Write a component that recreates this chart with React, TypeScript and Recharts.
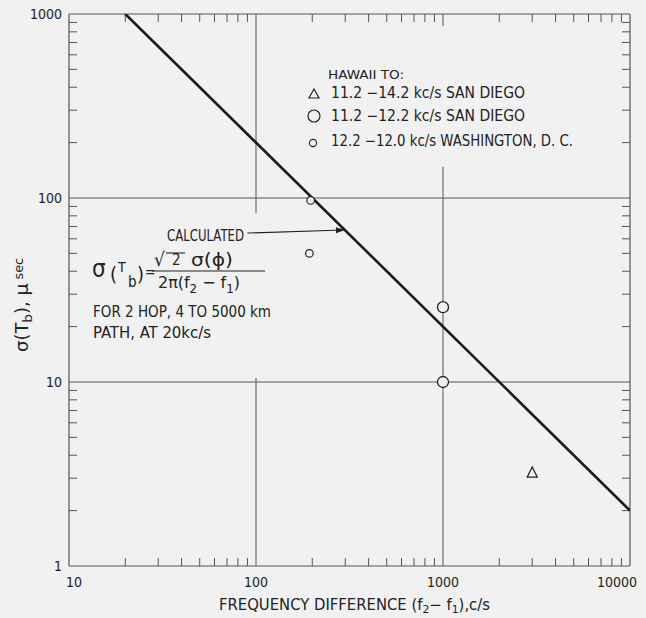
import React from "react";
import {
  ComposedChart,
  ReferenceLine,
  Scatter,
  XAxis,
  YAxis,
} from "recharts";

// calculated curve sigma = sqrt2 * sigma(phi) / (2 pi df), straight on log-log
const calcLine = [
  { x: 20, y: 1000 },
  { x: 10000, y: 2 },
];
const sanDiego142 = [{ x: 3000, y: 3.2 }];
const sanDiego122 = [
  { x: 1000, y: 25.5 },
  { x: 1000, y: 10 },
];
const washington = [
  { x: 196, y: 97 },
  { x: 193, y: 50 },
];

const xMajor = [10, 100, 1000, 10000];
const yMajor = [1, 10, 100, 1000];
const xMinor = [
  20, 30, 40, 50, 60, 70, 80, 90, 200, 300, 400, 500, 600, 700, 800, 900, 2000,
  3000, 4000, 5000, 6000, 7000, 8000, 9000,
];
const yMinor = [
  2, 3, 4, 5, 6, 7, 8, 9, 20, 30, 40, 50, 60, 70, 80, 90, 200, 300, 400, 500,
  600, 700, 800, 900,
];

const FONT = "'DejaVu Sans Condensed', 'Liberation Sans Narrow', sans-serif";
const INK = "#222";
const GRID = "#555";
const BG = "#f1f1f1";

const blank = () => "";

const XTick = (props: any) => {
  const { x, y, payload } = props;
  const v = payload.value;
  const dx = v === 10 ? 5 : v === 10000 ? -13 : 0;
  return (
    <text x={x + dx} y={y + 13} textAnchor="middle" fontSize={14} fill={INK} fontFamily={FONT}>
      {v}
    </text>
  );
};

const YTick = (props: any) => {
  const { x, y, payload } = props;
  return (
    <text x={x} y={y + 5} textAnchor="end" fontSize={14} fill={INK} fontFamily={FONT}>
      {payload.value}
    </text>
  );
};

const Triangle = (p: any) => (
  <polygon
    points={`${p.cx},${p.cy - 6} ${p.cx - 5},${p.cy + 4} ${p.cx + 5},${p.cy + 4}`}
    fill="none"
    stroke={INK}
    strokeWidth={1.3}
  />
);
const BigCircle = (p: any) => (
  <circle cx={p.cx} cy={p.cy} r={5.5} fill={BG} stroke={INK} strokeWidth={1.3} />
);
const SmallCircle = (p: any) => (
  <circle cx={p.cx} cy={p.cy} r={3.8} fill={BG} stroke={INK} strokeWidth={1.2} />
);
const NoDot = () => <g />;

const Arrow = (p: any) => {
  const { x1, y1, x2, y2 } = p;
  const a = Math.atan2(y2 - y1, x2 - x1);
  const L = 9;
  const w = 3;
  const bx = x2 - L * Math.cos(a);
  const by = y2 - L * Math.sin(a);
  const nx = -Math.sin(a) * w;
  const ny = Math.cos(a) * w;
  return (
    <g>
      <line x1={x1} y1={y1} x2={bx} y2={by} stroke={INK} strokeWidth={1.1} />
      <polygon points={`${x2},${y2} ${bx + nx},${by + ny} ${bx - nx},${by - ny}`} fill={INK} />
    </g>
  );
};

const axisCommon = {
  type: "number" as const,
  scale: "log" as const,
  allowDataOverflow: true,
  interval: 0 as const,
};

export default function App() {
  return (
    <div
      style={{
        position: "absolute",
        left: 0,
        top: 0,
        width: 646,
        height: 618,
        background: BG,
        fontFamily: FONT,
      }}
    >
      <ComposedChart
        width={646}
        height={618}
        margin={{ top: 14, right: 16, bottom: 12, left: 9 }}
      >
        {/* bottom labelled axis */}
        <XAxis
          {...axisCommon}
          xAxisId="b"
          dataKey="x"
          domain={[10, 10000]}
          ticks={xMajor}
          tickLine={false}
          axisLine={{ stroke: GRID, strokeWidth: 1.2 }}
          height={40}
          tick={<XTick />}
        />
        {/* inner minor ticks, bottom */}
        <XAxis
          {...axisCommon}
          xAxisId="bm"
          dataKey="x"
          mirror
          domain={[10, 10000]}
          ticks={xMinor}
          tickSize={8}
          tickLine={{ stroke: GRID }}
          axisLine={false}
          tickFormatter={blank}
        />
        {/* top border + minor ticks */}
        <XAxis
          {...axisCommon}
          xAxisId="t"
          dataKey="x"
          orientation="top"
          mirror
          domain={[10, 10000]}
          ticks={xMinor}
          tickSize={8}
          tickLine={{ stroke: GRID }}
          axisLine={{ stroke: GRID, strokeWidth: 1.2 }}
          tickFormatter={blank}
        />
        <YAxis
          {...axisCommon}
          yAxisId="l"
          dataKey="y"
          domain={[1, 1000]}
          ticks={yMajor}
          tickLine={false}
          tickSize={0}
          tickMargin={7}
          width={60}
          axisLine={{ stroke: GRID, strokeWidth: 1.2 }}
          tick={<YTick />}
        />
        <YAxis
          {...axisCommon}
          yAxisId="lm"
          dataKey="y"
          mirror
          domain={[1, 1000]}
          ticks={yMinor}
          tickSize={8}
          tickLine={{ stroke: GRID }}
          axisLine={false}
          tickFormatter={blank}
        />
        <YAxis
          {...axisCommon}
          yAxisId="r"
          dataKey="y"
          orientation="right"
          mirror
          domain={[1, 1000]}
          ticks={yMinor}
          tickSize={8}
          tickLine={{ stroke: GRID }}
          axisLine={{ stroke: GRID, strokeWidth: 1.2 }}
          tickFormatter={blank}
        />

        {/* partial grid lines */}
        <ReferenceLine xAxisId="b" yAxisId="l" y={100} stroke={GRID} strokeWidth={1} />
        <ReferenceLine xAxisId="b" yAxisId="l" y={10} stroke={GRID} strokeWidth={1} />
        <ReferenceLine
          xAxisId="b"
          yAxisId="l"
          segment={[{ x: 100, y: 1000 }, { x: 100, y: 83 }]}
          stroke={GRID}
        />
        <ReferenceLine
          xAxisId="b"
          yAxisId="l"
          segment={[{ x: 100, y: 10.5 }, { x: 100, y: 1 }]}
          stroke={GRID}
        />
        <ReferenceLine
          xAxisId="b"
          yAxisId="l"
          segment={[{ x: 1000, y: 148 }, { x: 1000, y: 1 }]}
          stroke={GRID}
        />
        <ReferenceLine
          xAxisId="b"
          yAxisId="l"
          segment={[{ x: 1000, y: 1000 }, { x: 1000, y: 860 }]}
          stroke={GRID}
        />
        <ReferenceLine
          xAxisId="b"
          yAxisId="l"
          segment={[{ x: 90, y: 64.5 }, { x: 299, y: 67 }]}
          shape={<Arrow />}
        />

        <Scatter
          xAxisId="b"
          yAxisId="l"
          data={calcLine}
          line={{ stroke: "#1a1a1a", strokeWidth: 2.6 }}
          shape={<NoDot />}
          isAnimationActive={false}
        />
        <Scatter xAxisId="b" yAxisId="l" data={sanDiego142} shape={<Triangle />} isAnimationActive={false} />
        <Scatter xAxisId="b" yAxisId="l" data={sanDiego122} shape={<BigCircle />} isAnimationActive={false} />
        <Scatter xAxisId="b" yAxisId="l" data={washington} shape={<SmallCircle />} isAnimationActive={false} />
      </ComposedChart>

      <svg
        width={646}
        height={618}
        style={{ position: "absolute", left: 0, top: 0, pointerEvents: "none" }}
        fontFamily={FONT}
        fill={INK}
      >
        {/* legend */}
        <text x={328} y={79} fontSize={13} textLength={76} lengthAdjust="spacingAndGlyphs">
          HAWAII  TO:
        </text>
        <polygon points="314,89 309,98 319,98" fill="none" stroke={INK} strokeWidth={1.2} />
        <text x={331} y={98} fontSize={15} textLength={194} lengthAdjust="spacingAndGlyphs">
          11.2 −14.2 kc/s SAN  DIEGO
        </text>
        <circle cx={314} cy={116} r={6} fill="none" stroke={INK} strokeWidth={1.2} />
        <text x={331} y={121} fontSize={15} textLength={194} lengthAdjust="spacingAndGlyphs">
          11.2 −12.2 kc/s SAN  DIEGO
        </text>
        <circle cx={313} cy={143} r={3.6} fill="none" stroke={INK} strokeWidth={1.1} />
        <text x={331} y={146} fontSize={15} textLength={242} lengthAdjust="spacingAndGlyphs">
          12.2 −12.0 kc/s WASHINGTON,  D. C.
        </text>

        {/* annotation */}
        <text x={167} y={241} fontSize={15} textLength={77} lengthAdjust="spacingAndGlyphs">
          CALCULATED
        </text>
        <text x={92} y={277} fontSize={24}>σ</text>
        <text x={110} y={281} fontSize={20}>(</text>
        <text x={118} y={272} fontSize={14}>T</text>
        <text x={128} y={287} fontSize={15}>b</text>
        <text x={137} y={281} fontSize={20}>)</text>
        <text x={145} y={277} fontSize={14}>=</text>
        <text x={154} y={266} fontSize={19}>√</text>
        <line x1={166} y1={253} x2={185} y2={253} stroke={INK} strokeWidth={1.1} />
        <text x={172} y={265} fontSize={15}>2</text>
        <text x={191} y={266} fontSize={18} textLength={42} lengthAdjust="spacingAndGlyphs">
          σ(ϕ)
        </text>
        <line x1={152} y1={271} x2={265} y2={271} stroke={INK} strokeWidth={1} />
        <text x={158} y={288} fontSize={16} textLength={82} lengthAdjust="spacingAndGlyphs">
          2π(f
          <tspan fontSize={12} dy={5}>2</tspan>
          <tspan dy={-5}> − f</tspan>
          <tspan fontSize={12} dy={5}>1</tspan>
          <tspan dy={-5}>)</tspan>
        </text>
        <text x={93} y={317} fontSize={15} textLength={178} lengthAdjust="spacingAndGlyphs">
          FOR  2  HOP,  4  TO  5000 km
        </text>
        <text x={93} y={338} fontSize={15} textLength={118} lengthAdjust="spacingAndGlyphs">
          PATH,  AT  20kc/s
        </text>

        {/* axis titles */}
        <text
          transform="translate(28,305) rotate(-90)"
          textAnchor="middle"
          fontSize={17}
          textLength={94}
          lengthAdjust="spacingAndGlyphs"
        >
          σ(T<tspan fontSize={13} dy={4}>b</tspan>
          <tspan dy={-4}>),  </tspan>
          <tspan fontSize={18}>μ</tspan>
          <tspan fontSize={12} dy={-5}> sec</tspan>
        </text>
        <text x={219} y={610} fontSize={15} textLength={271} lengthAdjust="spacingAndGlyphs">
          FREQUENCY  DIFFERENCE  (f
          <tspan fontSize={11} dy={3}>2</tspan>
          <tspan dy={-3}>− f</tspan>
          <tspan fontSize={11} dy={3}>1</tspan>
          <tspan dy={-3}>),c/s</tspan>
        </text>
      </svg>
    </div>
  );
}
